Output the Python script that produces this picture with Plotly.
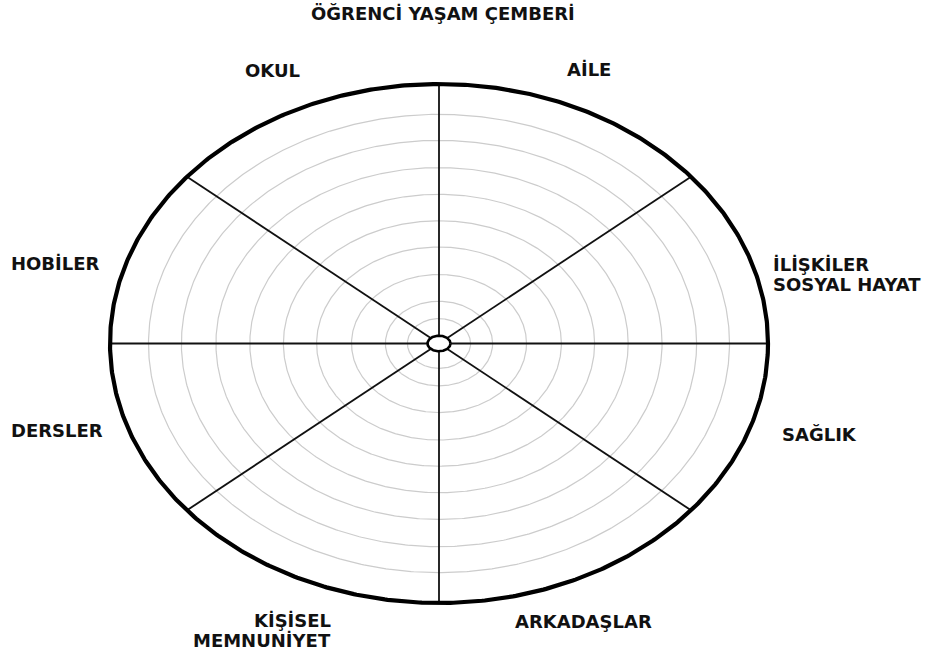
import numpy as np
import plotly.graph_objects as go

title_text = "ÖĞRENCİ YAŞAM ÇEMBERİ"
categories = ["AİLE", "İLİŞKİLER<br>SOSYAL HAYAT", "SAĞLIK", "ARKADAŞLAR",
              "KİŞİSEL<br>MEMNUNİYET", "DERSLER", "HOBİLER", "OKUL"]
# ring levels as fraction of outer radius
ring_levels = [0.096, 0.163, 0.266, 0.372, 0.473, 0.575, 0.678, 0.783, 0.883]
# spoke directions (parametric angle in degrees)
spoke_angles = [0, 40, 90, 140, 180, 220, 270, 320]

# geometry (pixels)
RX, RY = 329.0, 259.5
CX_PIX, CY_PIX = 439.0, 343.5
W, H = 948, 656

# label placement: (x_pix, y_pix, xanchor)
label_pos = {
    "AİLE": (589, 69, "center"),
    "İLİŞKİLER<br>SOSYAL HAYAT": (771, 274, "left"),
    "SAĞLIK": (780, 434, "left"),
    "ARKADAŞLAR": (583, 621, "center"),
    "KİŞİSEL<br>MEMNUNİYET": (333, 630.5, "right"),
    "DERSLER": (9, 430, "left"),
    "HOBİLER": (9, 263, "left"),
    "OKUL": (272, 70, "center"),
}

def px(x):
    return x - CX_PIX

def py(y):
    return CY_PIX - y

fig = go.Figure()
t = np.linspace(0, 2 * np.pi, 721)

# gray rings
for lv in ring_levels:
    fig.add_trace(go.Scatter(x=lv * RX * np.cos(t), y=lv * RY * np.sin(t), mode="lines",
                             line=dict(color="#cccccc", width=1.2), hoverinfo="skip", showlegend=False))

# spokes
for a in spoke_angles:
    r = np.deg2rad(a)
    fig.add_trace(go.Scatter(x=[0, RX * np.cos(r)], y=[0, RY * np.sin(r)], mode="lines",
                             line=dict(color="#111111", width=1.8), hoverinfo="skip", showlegend=False))

# outer ellipse
fig.add_trace(go.Scatter(x=RX * np.cos(t), y=RY * np.sin(t), mode="lines",
                         line=dict(color="#000000", width=4.2), hoverinfo="skip", showlegend=False))

# center hub
fig.add_trace(go.Scatter(x=11.5 * np.cos(t), y=7.8 * np.sin(t), mode="lines", fill="toself",
                         fillcolor="white", line=dict(color="#000000", width=2.6),
                         hoverinfo="skip", showlegend=False))

FONT = dict(family="DejaVu Sans", size=18, color="#111111", weight="bold")
LINE_GAP = 20

annotations = [dict(x=px(443), y=py(13), text=title_text, showarrow=False, xref="x", yref="y",
                    xanchor="center", yanchor="middle", font=FONT)]
for cat in categories:
    x0, y0, anc = label_pos[cat]
    lines = cat.split("<br>")
    n = len(lines)
    for i, ln in enumerate(lines):
        yy = y0 + (i - (n - 1) / 2) * LINE_GAP
        annotations.append(dict(x=px(x0), y=py(yy), text=ln, showarrow=False, xref="x", yref="y",
                                xanchor=anc, yanchor="middle", font=FONT))

fig.update_layout(
    width=W, height=H,
    margin=dict(l=0, r=0, t=0, b=0),
    paper_bgcolor="white", plot_bgcolor="white",
    xaxis=dict(range=[px(0), px(W)], visible=False, fixedrange=True),
    yaxis=dict(range=[py(H), py(0)], visible=False, fixedrange=True),
    annotations=annotations,
    showlegend=False,
)

fig.write_html("out.html", config={"displayModeBar": False},
               post_script="document.body.style.margin='0';document.body.style.overflow='hidden';")
